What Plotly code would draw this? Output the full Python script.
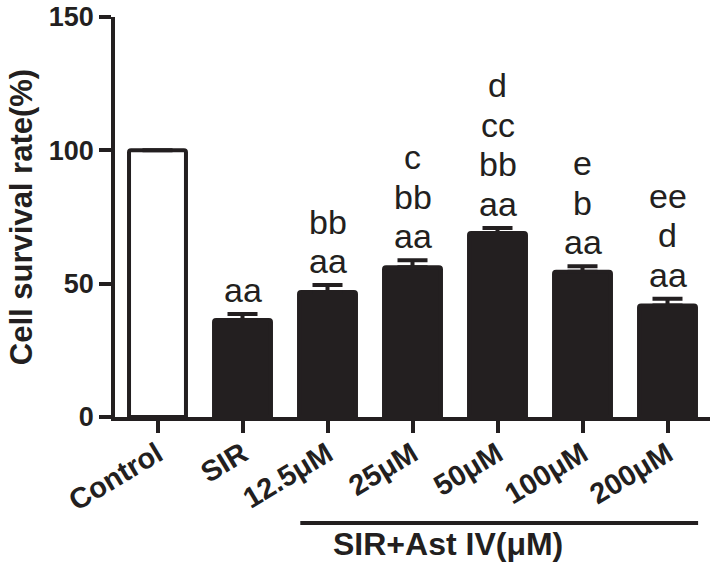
import plotly.graph_objects as go

categories = ["Control", "SIR", "12.5μM", "25μM", "50μM", "100μM", "200μM"]
values = [100.0, 36.4, 46.9, 56.2, 69.0, 54.5, 41.8]
errors = [0.0, 2.2, 2.6, 2.6, 1.9, 2.0, 2.5]
letters = [
    [],
    ["aa"],
    ["aa", "bb"],
    ["aa", "bb", "c"],
    ["aa", "bb", "cc", "d"],
    ["aa", "b", "e"],
    ["aa", "d", "ee"],
]
y_ticks = [0, 50, 100, 150]
group_label = "SIR+Ast IV(μM)"
y_title = "Cell survival rate(%)"

FONT = "Liberation Sans, Arial, sans-serif"
INK = "#231f20"

fill_colors = ["white"] + [INK] * (len(categories) - 1)

fig = go.Figure()
fig.add_trace(go.Bar(
    x=categories,
    y=values,
    width=0.67,
    marker=dict(color=fill_colors, line=dict(color=INK, width=4), cornerradius=2),
    error_y=dict(type="data", symmetric=False, array=errors,
                 arrayminus=[0] * len(errors), color=INK, thickness=4, width=15),
    showlegend=False,
))

annotations = []
pitch = 39.5
base_shift = 3
for i, stack in enumerate(letters):
    for j, txt in enumerate(stack):
        annotations.append(dict(
            x=categories[i], y=values[i] + errors[i], xref="x", yref="y",
            text=txt, showarrow=False, yanchor="bottom", xanchor="center",
            yshift=base_shift + j * pitch,
            font=dict(family=FONT, size=34, color=INK),
        ))

# group label under the treated doses
first = categories.index("12.5μM")
last = categories.index("200μM")
annotations.append(dict(
    x=(first + last) / 2 - 0.58, y=-0.318, xref="x", yref="paper",
    text="<b>" + group_label + "</b>", showarrow=False,
    xanchor="center", yanchor="middle",
    font=dict(family=FONT, size=32, color=INK),
))

shapes = [dict(
    type="line", xref="x", yref="paper",
    x0=first - 0.32, x1=last + 0.36, y0=-0.265, y1=-0.265,
    line=dict(color=INK, width=4),
)]

fig.update_layout(
    width=720, height=570,
    margin=dict(l=115, r=10, t=17, b=153, autoexpand=False),
    paper_bgcolor="white", plot_bgcolor="white",
    annotations=annotations, shapes=shapes,
    bargap=0.3,
)
fig.update_xaxes(
    type="category", range=[-0.5, len(categories) - 0.5],
    showline=True, linecolor=INK, linewidth=3.5,
    ticks="outside", ticklen=12, tickwidth=3.5, tickcolor=INK,
    tickangle=-31, automargin=False, ticklabelstandoff=-7,
    tickfont=dict(family=FONT, size=29, color=INK, weight="bold"),
    showgrid=False, zeroline=False, fixedrange=True,
)
fig.update_yaxes(
    range=[0, 150], tickvals=y_ticks, ticktext=[str(t) for t in y_ticks],
    showline=True, linecolor=INK, linewidth=3.5,
    ticks="outside", ticklen=12, tickwidth=3.5, tickcolor=INK,
    automargin=False, ticklabeloverflow="allow",
    tickfont=dict(family=FONT, size=27, color=INK, weight="bold"),
    title=dict(text=y_title, standoff=8,
               font=dict(family=FONT, size=31, color=INK, weight="bold")),
    showgrid=False, zeroline=False, fixedrange=True,
)

# remove the browser's default 8px body margin so the figure fills the window
fig.write_html("out.html", config={"displayModeBar": False},
               post_script="document.body.style.margin='0';")
